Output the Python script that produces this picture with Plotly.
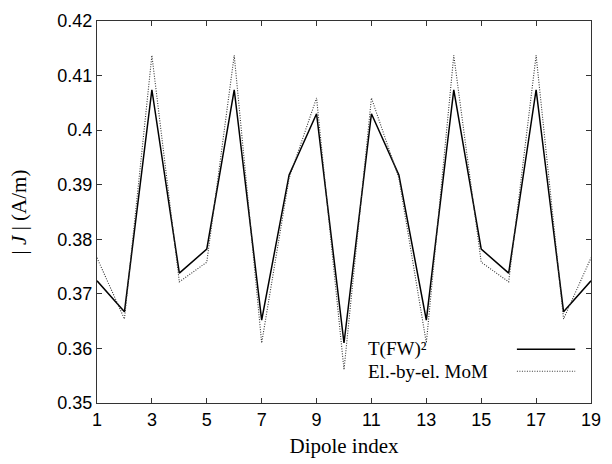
import plotly.graph_objects as go

dipole_index = list(range(1, 20))
tfw2 = [0.3724, 0.3667, 0.4074, 0.3738, 0.3782, 0.4074, 0.3652, 0.3918, 0.4030, 0.3610,
        0.4030, 0.3918, 0.3652, 0.4074, 0.3782, 0.3738, 0.4074, 0.3667, 0.3724]
mom = [0.3766, 0.3654, 0.4137, 0.3722, 0.3758, 0.4137, 0.3610, 0.3912, 0.4059, 0.3561,
       0.4059, 0.3912, 0.3610, 0.4137, 0.3758, 0.3722, 0.4137, 0.3654, 0.3766]
legend_labels = ["T(FW)\u00b2", "El.-by-el. MoM"]
x_ticks = [1, 3, 5, 7, 9, 11, 13, 15, 17, 19]
y_ticks = [0.35, 0.36, 0.37, 0.38, 0.39, 0.40, 0.41, 0.42]
y_tick_text = ["0.35", "0.36", "0.37", "0.38", "0.39", "0.4", "0.41", "0.42"]

fig = go.Figure()
fig.add_trace(go.Scatter(x=dipole_index, y=tfw2, mode="lines", name=legend_labels[0],
                         line=dict(color="black", width=1.5), showlegend=False))
fig.add_trace(go.Scatter(x=dipole_index, y=mom, mode="lines", name=legend_labels[1],
                         line=dict(color="#333", width=1.1, dash="1px,1.5px"), showlegend=False))

serif = "Liberation Serif, Times New Roman, serif"
sans = "Liberation Sans, Arial, sans-serif"

# manual legend (text left, sample line right, like the original)
leg_y = [0.141, 0.083]
leg_dash = ["solid", "1px,1.5px"]
leg_w = [1.5, 1.1]
leg_c = ["black", "#333"]
for lab, yy, dsh, w, c in zip(legend_labels, leg_y, leg_dash, leg_w, leg_c):
    fig.add_annotation(x=0.545, y=yy, xref="paper", yref="paper", text=lab,
                       showarrow=False, xanchor="left", yanchor="middle",
                       font=dict(family=serif, size=19, color="black"))
    fig.add_shape(type="line", xref="paper", yref="paper", x0=0.850, x1=0.968,
                  y0=yy, y1=yy, line=dict(color=c, width=w, dash=dsh))

axis_common = dict(showgrid=False, zeroline=False, showline=True, linecolor="#333",
                   linewidth=1.3, mirror="ticks", ticks="inside", ticklen=5,
                   tickcolor="#333", tickfont=dict(family=sans, size=18, color="black"))

fig.update_layout(
    width=612, height=464,
    margin=dict(l=97, r=14, t=11, b=56),
    paper_bgcolor="white", plot_bgcolor="white",
    xaxis=dict(range=[1, 19], tickvals=x_ticks,
               title=dict(text="Dipole index", font=dict(family=serif, size=21, color="black"),
                          standoff=9),
               **axis_common),
    yaxis=dict(range=[0.35, 0.42], tickvals=y_ticks, ticktext=y_tick_text,
               title=dict(text="| <i>J</i> | (A/m)", font=dict(family=serif, size=21, color="black"),
                          standoff=24),
               **axis_common),
)

fig.write_html("out.html")
